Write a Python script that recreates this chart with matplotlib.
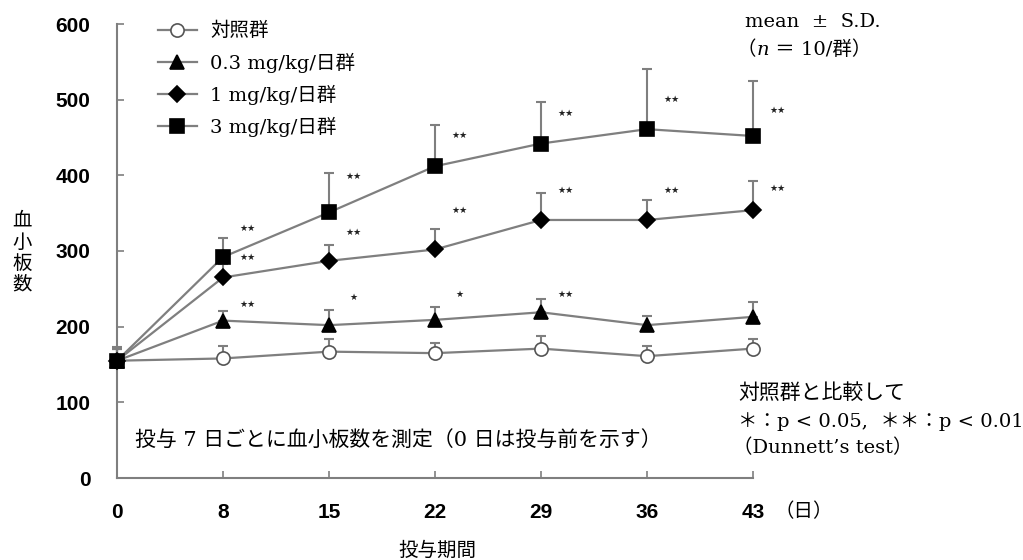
import matplotlib
matplotlib.use("Agg")
import matplotlib.pyplot as plt
from matplotlib.lines import Line2D
import numpy as np

days = ["0", "8", "15", "22", "29", "36", "43"]

ctrl_mean = [155, 158, 167, 165, 171, 161, 171]
ctrl_sd = [16, 16, 17, 14, 17, 14, 13]
low_mean = [155, 208, 202, 209, 219, 202, 213]
low_sd = [16, 13, 20, 17, 18, 12, 19]
mid_mean = [155, 265, 287, 302, 341, 341, 354]
mid_sd = [16, 18, 21, 27, 35, 26, 38]
high_mean = [155, 292, 351, 412, 442, 461, 452]
high_sd = [18, 25, 52, 54, 55, 80, 73]

labels = ["対照群", "0.3 mg/kg/日群", "1 mg/kg/日群", "3 mg/kg/日群"]

sig_low = ["", "**", "*", "*", "**", "", ""]
sig_mid = ["", "**", "**", "**", "**", "**", "**"]
sig_high = ["", "**", "**", "**", "**", "**", "**"]
sig_low_y = [0, 229, 239, 242, 243, 0, 0]
sig_mid_y = [0, 292, 324, 354, 380, 380, 383]
sig_high_y = [0, 330, 399, 453, 482, 500, 486]

yticks = [0, 100, 200, 300, 400, 500, 600]

SERIF = ["DejaVu Serif", "Noto Sans CJK JP"]
CJK = ["Noto Sans CJK JP", "DejaVu Sans"]
GRAY = "#7f7f7f"
FS = 14

fig = plt.figure(figsize=(10.23, 5.6), dpi=100)
W, H = 1023.0, 560.0
ax = fig.add_axes([117 / W, 1 - 478 / H, (753 - 117) / W, (478 - 24) / H])
x = np.arange(len(days))

series = [
    (ctrl_mean, ctrl_sd, "o", "white", 9.5),
    (low_mean, low_sd, "^", "black", 9.5),
    (mid_mean, mid_sd, "D", "black", 8),
    (high_mean, high_sd, "s", "black", 9.5),
]
handles = []
for (m, s, mk, fc, ms), lab in zip(series, labels):
    ec = "black" if fc == "black" else "#555555"
    eb = ax.errorbar(x, m, yerr=[np.zeros(len(s)), s], fmt="none", ecolor=GRAY,
                     elinewidth=1.5, capsize=3.5, capthick=1.5, zorder=2)
    for art in eb.get_children():
        art.set_clip_on(False)
    ax.plot(x, m, color=GRAY, lw=1.6, zorder=3, clip_on=False)
    ax.plot(x, m, linestyle="none", marker=mk, markersize=ms, markerfacecolor=fc,
            markeredgecolor=ec, markeredgewidth=1.2, zorder=4, clip_on=False)
    handles.append(Line2D([], [], color=GRAY, lw=1.6, marker=mk, markersize=ms,
                          markerfacecolor=fc, markeredgecolor=ec,
                          markeredgewidth=1.2))

for sig, ys in [(sig_low, sig_low_y), (sig_mid, sig_mid_y), (sig_high, sig_high_y)]:
    for i, (t, yv) in enumerate(zip(sig, ys)):
        if t:
            ax.text(i + 0.23, yv, t.replace("*", "★"), fontsize=6.5, ha="center",
                    va="center", color="#222222", family="DejaVu Sans")

ax.set_xlim(0, len(days) - 1)
ax.set_ylim(0, 600)
ax.set_xticks(x)
ax.set_xticklabels(days)
ax.set_yticks(yticks)
for sp in ["top", "right"]:
    ax.spines[sp].set_visible(False)
for sp in ["left", "bottom"]:
    ax.spines[sp].set_color(GRAY)
    ax.spines[sp].set_linewidth(1.5)
ax.tick_params(axis="both", direction="in", length=5, width=1.2, color=GRAY)
ax.tick_params(axis="x", pad=18)
ax.tick_params(axis="y", pad=19)
for lbl in ax.get_xticklabels() + ax.get_yticklabels():
    lbl.set_fontfamily("Liberation Sans")
    lbl.set_fontweight("bold")
    lbl.set_fontsize(15)

leg = ax.legend(handles, labels, loc="upper left", bbox_to_anchor=(158 / W, 1 - 22 / H),
                bbox_transform=fig.transFigure, frameon=False, handlelength=2.0,
                labelspacing=0.62, handletextpad=0.7, borderaxespad=0, borderpad=0,
                prop={"family": SERIF, "size": FS})


def px(xp, yp):
    return xp / W, 1 - yp / H


# y label stacked characters
for ch, yp in zip("血小板数", [220, 242, 263, 284]):
    fig.text(*px(22, yp), ch, family=CJK, fontsize=FS, ha="center", va="center")

fig.text(*px(437, 550), "投与期間", family=CJK, fontsize=FS, ha="center", va="center")
fig.text(*px(775, 512), "（日）", family=CJK, fontsize=FS, ha="left", va="center")
fig.text(*px(135, 440), "投与 7 日ごとに血小板数を測定（0 日は投与前を示す）",
         family=SERIF, fontsize=15, ha="left", va="center")
fig.text(*px(745, 22), "mean  ±  S.D.", family=SERIF, fontsize=FS, ha="left",
         va="center")

# "（n ＝ 10/群）" with italic n, drawn as consecutive runs
renderer = fig.canvas.get_renderer()
xcur = 737
for part, style in [("（", "normal"), ("n", "italic"), (" ＝ 10/群）", "normal")]:
    t = fig.text(*px(xcur, 50), part, family=SERIF, fontsize=FS, style=style,
                 ha="left", va="center")
    bb = t.get_window_extent(renderer)
    xcur += bb.width

fig.text(*px(738, 393), "対照群と比較して", family=SERIF, fontsize=15, ha="left",
         va="center")
fig.text(*px(738, 422), "＊：p < 0.05,  ＊＊：p < 0.01", family=SERIF, fontsize=FS,
         ha="left", va="center")
fig.text(*px(733, 448), "（Dunnett’s test）", family=SERIF, fontsize=FS, ha="left",
         va="center")

fig.savefig("out.png", dpi=100)
